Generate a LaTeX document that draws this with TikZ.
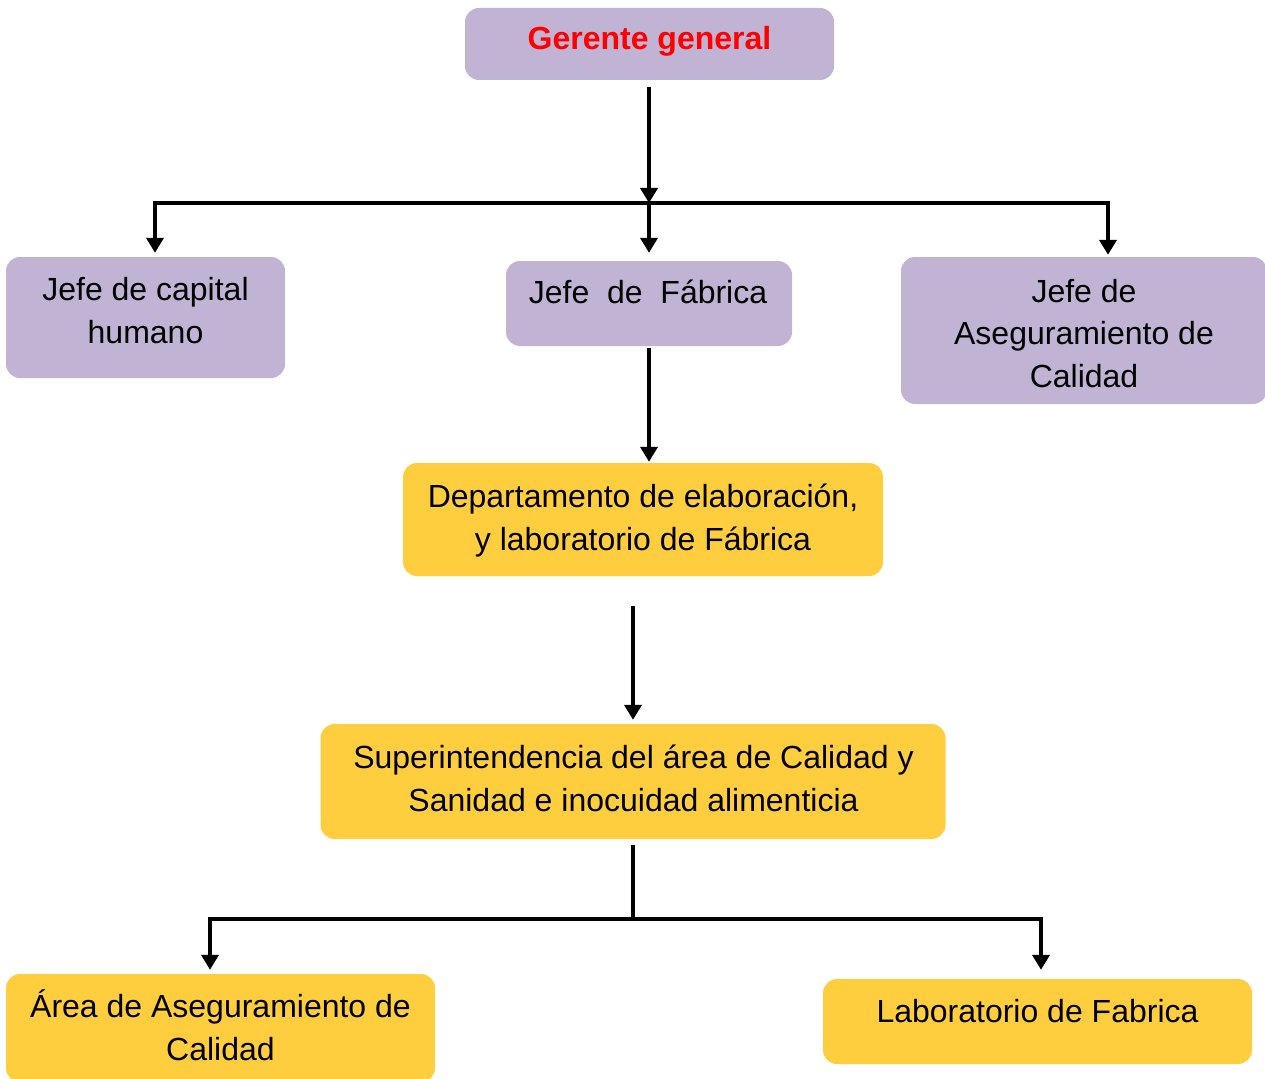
\documentclass[tikz,border=0pt]{standalone}
\usepackage{fontspec}
\setmainfont{Liberation Sans}
\usetikzlibrary{arrows.meta}
\definecolor{boxpurple}{RGB}{192,179,212}
\definecolor{boxyellow}{RGB}{255,206,62}
\definecolor{titlered}{RGB}{255,0,0}

\begin{document}
\begin{tikzpicture}[x=1pt,y=-1pt,
  box/.style={rounded corners=14pt, inner sep=0pt, draw=none},
  lilac/.style={box, fill=boxpurple},
  amber/.style={box, fill=boxyellow},
  % anchored on the baseline of the last line
  lbl/.style={font=\fontsize{32}{42.5}\selectfont, align=center, anchor=base, inner sep=0pt},
  wire/.style={line width=3.8pt, line join=miter},
  arr/.style={wire, -{Triangle[width=17pt,length=15pt]}}]

\useasboundingbox (0,0) rectangle (1265,1078);
\clip (0,0) rectangle (1265,1078);

% boxes
\node[lilac, minimum width=369pt, minimum height=72pt]  (gg) at (649.5,44)   {};
\node[lilac, minimum width=279pt, minimum height=121pt] (jc) at (145.5,317.5) {};
\node[lilac, minimum width=286pt, minimum height=85pt]  (jf) at (649,303.5) {};
\node[lilac, minimum width=366pt, minimum height=147pt] (ja) at (1084,330.5)  {};
\node[amber, minimum width=480pt, minimum height=113pt] (de) at (643,519.5)   {};
\node[amber, minimum width=625pt, minimum height=115pt] (su) at (633,781.5) {};
\node[amber, minimum width=429pt, minimum height=108pt] (ar) at (220.5,1028)  {};
\node[amber, minimum width=429pt, minimum height=85pt]  (la) at (1037.5,1021.5) {};

% labels
\node[lbl, font=\fontsize{32}{42.5}\selectfont\bfseries, text=titlered] (tgg) at (649.5,50) {Gerente general};
\node[lbl] (tjc) at (145.5,343) {Jefe de capital\\humano};
\node[lbl] (tjf) at (648,303) {Jefe~~de~~Fábrica};
\node[lbl] (tja) at (1084,387) {Jefe de\\Aseguramiento de\\Calidad};
\node[lbl] (tde) at (643,550) {Departamento de elaboración,\\y laboratorio de Fábrica};
\node[lbl] (tsu) at (633.5,811) {Superintendencia del área de Calidad y\\Sanidad e inocuidad alimenticia};
\node[lbl] (tar) at (220.5,1060) {Área de Aseguramiento de\\Calidad};
\node[lbl] (tla) at (1037.5,1022) {Laboratorio de Fabrica};

% upper distribution
\coordinate (top)  at (649,203);
\coordinate (busL) at (155,203);
\coordinate (busR) at (1108,203);
\draw[arr] ([yshift=-7pt]gg.south -| top) -- (top);
\draw[arr, shorten >=4pt] (top) -- (busL) -- (busL |- jc.north);
\draw[arr, shorten >=2pt] (top) -- (busR) -- (busR |- ja.north);
\draw[arr, shorten >=8pt] (top) -- (top |- jf.north);

% middle chain
\draw[arr, shorten >=1pt] ([yshift=-2pt]jf.south -| top) -- (top |- de.north);
\draw[arr, shorten >=4pt] ([yshift=-30pt]de.south -| su.north) -- (su.north);

% lower distribution
\coordinate (bot)   at (633,919);
\coordinate (busL2) at (210,919);
\coordinate (busR2) at (1041,919);
\draw[wire] ([yshift=-6pt]su.south) -- (bot);
\draw[arr, shorten >=4pt] (bot) -- (busL2) -- (busL2 |- ar.north);
\draw[arr, shorten >=9pt] (bot) -- (busR2) -- (busR2 |- la.north);
\end{tikzpicture}
\end{document}
